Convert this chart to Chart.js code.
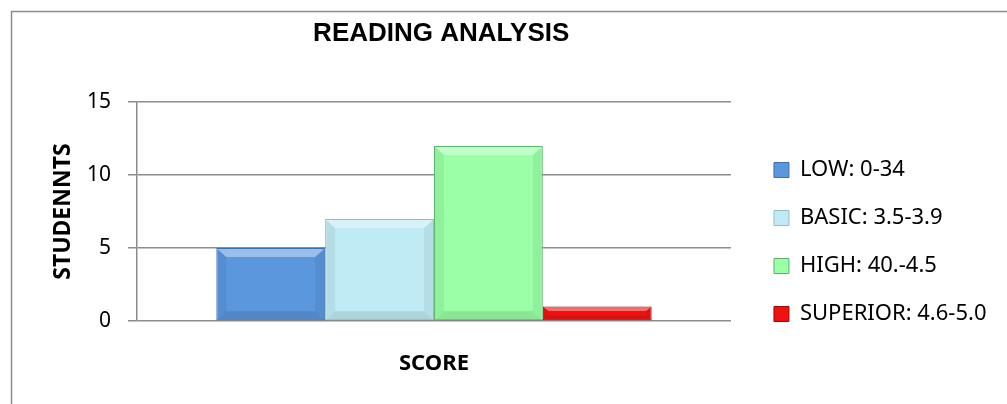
<!DOCTYPE html>
<html><head><meta charset="utf-8">
<style>html,body{margin:0;padding:0;background:#fff;overflow:hidden}#wrap{width:1007px;height:404px}</style>
<script src="https://cdn.jsdelivr.net/npm/chart.js@4/dist/chart.umd.min.js"></script>
</head><body><div id="wrap"><canvas id="c" width="1007" height="404"></canvas></div>
<script>
const categories = [''];
const seriesNames = ['LOW: 0-34', 'BASIC: 3.5-3.9', 'HIGH: 40.-4.5', 'SUPERIOR: 4.6-5.0'];
const lowValues = [5];
const basicValues = [7];
const highValues = [12];
const superiorValues = [1];
const yTickValues = [0, 5, 10, 15];

const fills = ['#5B97DD', '#C1EBF4', '#9AFFA6', '#F01212'];
const edges = ['#3F6FB0', '#93BCC8', '#5DB46A', '#A00808'];
const seriesValues = [lowValues, basicValues, highValues, superiorValues];

const gridGrey = '#8c8c8c';
const bodyFont = '"Noto Sans", "Open Sans", sans-serif';

const frame = {
  id: 'frame',
  beforeDraw(chart) {
    const ctx = chart.ctx;
    ctx.save();
    ctx.fillStyle = '#fff';
    ctx.fillRect(0, 0, chart.width, chart.height);
    ctx.strokeStyle = '#8c8c8c';
    ctx.lineWidth = 1.5;
    ctx.strokeRect(11.5, 11.5, 3000, 3000);
    ctx.restore();
  }
};

const bevel = {
  id: 'bevel',
  afterDatasetsDraw(chart) {
    const ctx = chart.ctx;
    chart.data.datasets.forEach((ds, i) => {
      const meta = chart.getDatasetMeta(i);
      meta.data.forEach(bar => {
        const {x, y, base, width} = bar.getProps(['x', 'y', 'base', 'width'], true);
        const l = x - width / 2, r = x + width / 2, t = y, b = base;
        const h = b - t;
        const d = Math.min(9, h / 3);
        ctx.save();
        ctx.fillStyle = 'rgba(255,255,255,0.38)';
        ctx.beginPath();
        ctx.moveTo(l + 1, t + 1); ctx.lineTo(r - 1, t + 1); ctx.lineTo(r - 1 - d, t + d); ctx.lineTo(l + 1 + d, t + d); ctx.closePath();
        ctx.fill();
        ctx.fillStyle = 'rgba(0,0,0,0.06)';
        ctx.beginPath();
        ctx.moveTo(l + 1, t + 1); ctx.lineTo(l + 1 + d, t + d); ctx.lineTo(l + 1 + d, b - d); ctx.lineTo(l + 1, b); ctx.closePath();
        ctx.fill();
        ctx.beginPath();
        ctx.moveTo(r - 1, t + 1); ctx.lineTo(r - 1 - d, t + d); ctx.lineTo(r - 1 - d, b - d); ctx.lineTo(r - 1, b); ctx.closePath();
        ctx.fill();
        ctx.fillStyle = 'rgba(0,0,0,0.10)';
        ctx.beginPath();
        ctx.moveTo(l + 1, b); ctx.lineTo(l + 1 + d, b - d); ctx.lineTo(r - 1 - d, b - d); ctx.lineTo(r - 1, b); ctx.closePath();
        ctx.fill();
        ctx.restore();
      });
    });
  }
};

new Chart(document.getElementById('c'), {
  type: 'bar',
  data: {
    labels: categories,
    datasets: seriesNames.map((name, i) => ({
      label: name,
      data: seriesValues[i],
      backgroundColor: fills[i],
      borderColor: edges[i],
      borderWidth: 1,
      borderSkipped: false,
      categoryPercentage: 0.733,
      barPercentage: 1.0
    }))
  },
  options: {
    responsive: false,
    animation: false,
    devicePixelRatio: 1,
    layout: { padding: { left: 40, right: 10.5, top: 0, bottom: 0 } },
    plugins: {
      tooltip: { enabled: false },
      title: {
        display: true,
        fullSize: false,
        text: '\u00A0\u00A0READING ANALYSIS',
        color: '#000',
        font: { family: '"Liberation Sans", Arial, sans-serif', size: 26, weight: 'bold', lineHeight: 1.2 },
        padding: { top: 18, bottom: 53 }
      },
      legend: {
        display: true,
        position: 'right',
        align: 'start',
        maxWidth: 259,
        title: { display: true, text: '', font: { size: 10, lineHeight: 1 }, padding: { top: 123, bottom: 0 } },
        labels: {
          color: '#000',
          font: { family: bodyFont, size: 22 },
          boxWidth: 15,
          boxHeight: 15,
          padding: 26
        }
      }
    },
    scales: {
      x: {
        type: 'category',
        grid: { display: false, drawTicks: false },
        border: { display: false },
        ticks: { display: false },
        title: {
          display: true,
          text: 'SCORE',
          color: '#000',
          font: { family: bodyFont, size: 22, weight: 'bold', lineHeight: 1.2 },
          padding: { top: 0, bottom: 27 }
        },
        afterFit(s) { s.height = 83; }
      },
      y: {
        position: 'left',
        min: 0,
        max: 15,
        afterBuildTicks(s) { s.ticks = yTickValues.map(v => ({ value: v })); },
        grid: { color: gridGrey, lineWidth: 1.5, tickLength: 9, drawTicks: true },
        border: { display: true, color: gridGrey, width: 1.5 },
        ticks: { color: '#000', padding: 17, font: { family: bodyFont, size: 21 } },
        title: {
          display: true,
          text: 'STUDENNTS',
          color: '#000',
          font: { family: bodyFont, size: 23, weight: 'bold', lineHeight: 1.2 },
          padding: { top: 10, bottom: 0 }
        },
        afterFit(s) { s.width = 97; }
      },
      spacer: {
        type: 'linear',
        position: 'right',
        display: true,
        grid: { display: false, drawTicks: false },
        border: { display: false },
        ticks: { display: false },
        afterFit(s) { s.width = 17; }
      }
    }
  },
  plugins: [frame, bevel]
});
</script>
</body></html>
